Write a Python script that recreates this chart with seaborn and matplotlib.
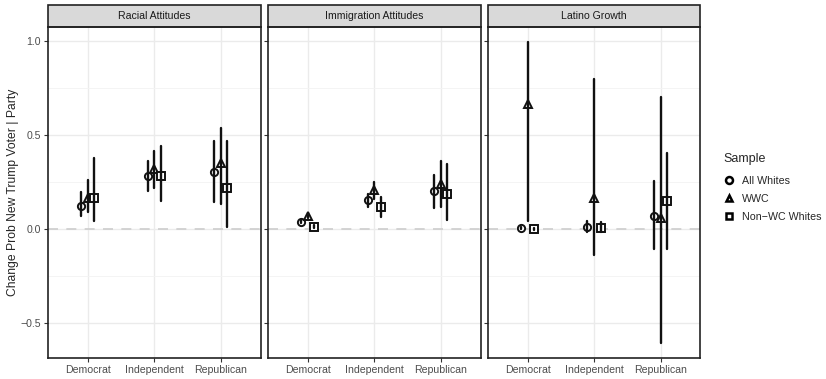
import pandas as pd
import seaborn as sns
import matplotlib.pyplot as plt
import numpy as np
from matplotlib.lines import Line2D
from matplotlib.patches import Rectangle
from matplotlib.ticker import MultipleLocator

# facets, x categories and hue levels
outcomes = ["Racial Attitudes", "Immigration Attitudes", "Latino Growth"]
parties = ["Democrat", "Independent", "Republican"]
samples = ["All Whites", "WWC", "Non\u2212WC Whites"]

# estimates and interval ends, ordered party by party, sample within party
racial_est = [0.123, 0.167, 0.167, 0.280, 0.316, 0.280, 0.302, 0.351, 0.219]
racial_lo = [0.070, 0.088, 0.044, 0.200, 0.216, 0.149, 0.144, 0.132, 0.012]
racial_hi = [0.196, 0.258, 0.377, 0.363, 0.412, 0.439, 0.470, 0.539, 0.470]

immig_est = [0.039, 0.067, 0.012, 0.154, 0.207, 0.114, 0.202, 0.240, 0.184]
immig_lo = [0.032, 0.058, 0.004, 0.119, 0.158, 0.065, 0.109, 0.114, 0.049]
immig_hi = [0.046, 0.076, 0.020, 0.188, 0.249, 0.172, 0.289, 0.360, 0.347]

latino_est = [0.006, 0.663, -0.001, 0.011, 0.167, 0.007, 0.070, 0.056, 0.151]
latino_lo = [0.000, 0.044, -0.006, -0.018, -0.137, -0.018, -0.105, -0.605, -0.105]
latino_hi = [0.012, 0.996, 0.004, 0.042, 0.798, 0.039, 0.254, 0.702, 0.404]

est = {outcomes[0]: racial_est, outcomes[1]: immig_est, outcomes[2]: latino_est}
lo = {outcomes[0]: racial_lo, outcomes[1]: immig_lo, outcomes[2]: latino_lo}
hi = {outcomes[0]: racial_hi, outcomes[1]: immig_hi, outcomes[2]: latino_hi}

# long table: three rows per group (lo, est, hi); median -> estimate, min/max -> interval
rows = []
for o in outcomes:
    i = 0
    for p in parties:
        for s in samples:
            for v in (lo[o][i], est[o][i], hi[o][i]):
                rows.append({"outcome": o, "party": p, "Sample": s, "value": v})
            i += 1
df = pd.DataFrame(rows)

sns.set_theme(style="white")
plt.rcParams["font.family"] = ["Liberation Sans", "DejaVu Sans"]

fig, axes = plt.subplots(1, 3, figsize=(8.26, 3.79), dpi=100, sharey=True)
fig.subplots_adjust(left=0.058, right=0.848, bottom=0.056, top=0.93, wspace=0.033)

ymin, ymax = df["value"].min(), df["value"].max()
pad = (ymax - ymin) * 0.05

for ax, o in zip(axes, outcomes):
    ax.axhline(0, color="#CDCDCD", lw=1.2, ls=(0, (6, 5)), zorder=1)
    sns.pointplot(data=df[df["outcome"] == o], x="party", y="value", hue="Sample",
                  order=parties, hue_order=samples,
                  estimator="median", errorbar=lambda v: (v.min(), v.max()),
                  palette=["#111111"] * 3, markers=["o", "^", "s"], linestyle="none",
                  dodge=0.2, legend=False, ax=ax,
                  markerfacecolor="white", markersize=5.2, markeredgewidth=1.4,
                  zorder=3, err_kws={"linewidth": 1.7})
    ax.set_xlim(-0.6, 2.6)
    ax.set_ylim(ymin - pad, ymax + pad)
    ax.set_yticks([-0.5, 0.0, 0.5, 1.0])
    ax.yaxis.set_minor_locator(MultipleLocator(0.25))
    ax.grid(True, which="major", color="#EBEBEB", lw=1.0, zorder=0)
    ax.grid(True, which="minor", axis="y", color="#F3F3F3", lw=0.6, zorder=0)
    ax.set_axisbelow(True)
    ax.set_xlabel("")
    ax.set_ylabel("")
    for sp in ax.spines.values():
        sp.set_color("#222222")
        sp.set_linewidth(1.2)
    ax.tick_params(axis="both", which="major", length=3, width=0.8, color="#333333",
                   labelsize=7.6, labelcolor="#4D4D4D", pad=2, bottom=True, left=True)
    ax.tick_params(axis="y", which="minor", length=0)
    # strip header
    h = 22 / (0.874 * 379)
    ax.add_patch(Rectangle((0, 1), 1, h, transform=ax.transAxes, clip_on=False,
                           facecolor="#D9D9D9", edgecolor="#222222", lw=1.2))
    ax.text(0.5, 1 + h / 2, o, transform=ax.transAxes, ha="center", va="center",
            fontsize=7.6, color="#1A1A1A")

axes[0].set_ylabel("Change Prob New Trump Voter | Party", fontsize=8.7)
axes[0].yaxis.set_label_coords(-0.135, 0.5)

handles = [Line2D([], [], marker=m, color="black", markerfacecolor="white",
                  markersize=5, markeredgewidth=1.8, linestyle="none")
           for m in ["o", "^", "s"]]
leg = fig.legend(handles, samples, title="Sample", loc="upper left",
                 bbox_to_anchor=(0.871, 0.6), frameon=False, fontsize=7.7,
                 title_fontsize=9, alignment="left", handlelength=1.0,
                 handletextpad=0.7, labelspacing=0.75, borderaxespad=0)
leg.get_title().set_position((0, 3))

fig.savefig("out.png", dpi=100)
